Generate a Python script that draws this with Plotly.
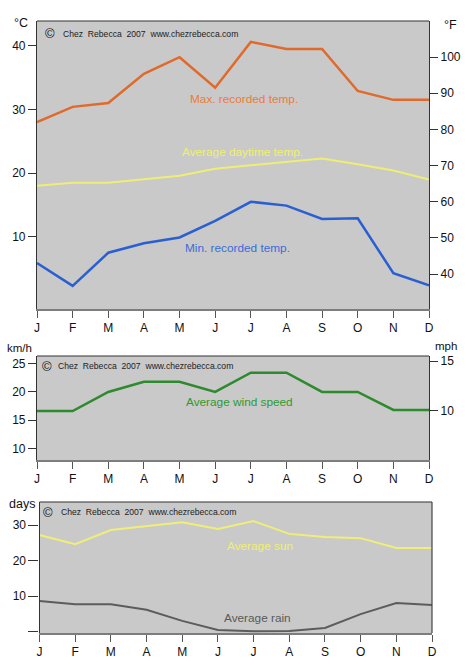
import plotly.graph_objects as go

W, H = 467, 665

months = ["J", "F", "M", "A", "M", "J", "J", "A", "S", "O", "N", "D"]
month_idx = list(range(12))

max_temp_c = [28.0, 30.4, 31.0, 35.6, 38.2, 33.4, 40.6, 39.5, 39.5, 32.9, 31.5, 31.5]
avg_day_c = [18.0, 18.5, 18.5, 19.0, 19.6, 20.7, 21.2, 21.8, 22.3, 21.4, 20.4, 19.0]
min_temp_c = [5.9, 2.3, 7.5, 9.0, 9.9, 12.5, 15.5, 14.9, 12.8, 12.9, 4.3, 2.4]

wind_kmh = [16.6, 16.6, 20.0, 21.8, 21.8, 20.0, 23.4, 23.4, 20.0, 20.0, 16.8, 16.8]

sun_days = [27.2, 24.6, 28.6, 29.7, 30.8, 28.9, 31.1, 27.5, 26.6, 26.3, 23.5, 23.5]
rain_days = [8.6, 7.7, 7.7, 6.1, 3.0, 0.4, 0.05, 0.15, 1.0, 4.9, 8.0, 7.5]

c_ticks = [10, 20, 30, 40]
f_ticks = [40, 50, 60, 70, 80, 90, 100]
kmh_ticks = [10, 15, 20, 25]
mph_ticks = [5, 10, 15]
day_ticks = [0, 10, 20, 30]
day_ticktext = ["", "10", "20", "30"]

FONT = "Liberation Sans, Arial, Helvetica, sans-serif"

def px_x(p):
    return p / W

def px_y(p):
    return 1 - p / H

fig = go.Figure()

# top chart
fig.add_trace(go.Scatter(x=month_idx, y=max_temp_c, mode="lines",
                         line=dict(color="#df6a2c", width=2.5), xaxis="x", yaxis="y",
                         hoverinfo="skip", showlegend=False))
fig.add_trace(go.Scatter(x=month_idx, y=avg_day_c, mode="lines",
                         line=dict(color="#eeee74", width=2), xaxis="x", yaxis="y",
                         hoverinfo="skip", showlegend=False))
fig.add_trace(go.Scatter(x=month_idx, y=min_temp_c, mode="lines",
                         line=dict(color="#2a5fd2", width=2.5), xaxis="x", yaxis="y",
                         hoverinfo="skip", showlegend=False))
fig.add_trace(go.Scatter(x=[0], y=[70], mode="markers", marker=dict(opacity=0),
                         xaxis="x", yaxis="y2", hoverinfo="skip", showlegend=False))

# middle chart
fig.add_trace(go.Scatter(x=month_idx, y=wind_kmh, mode="lines",
                         line=dict(color="#2d8a2d", width=2.5), xaxis="x2", yaxis="y3",
                         hoverinfo="skip", showlegend=False))
fig.add_trace(go.Scatter(x=[0], y=[10], mode="markers", marker=dict(opacity=0),
                         xaxis="x2", yaxis="y4", hoverinfo="skip", showlegend=False))

# bottom chart
fig.add_trace(go.Scatter(x=month_idx, y=sun_days, mode="lines",
                         line=dict(color="#efef78", width=2), xaxis="x3", yaxis="y5",
                         hoverinfo="skip", showlegend=False))
fig.add_trace(go.Scatter(x=month_idx, y=rain_days, mode="lines",
                         line=dict(color="#5c5c5c", width=2), xaxis="x3", yaxis="y5",
                         hoverinfo="skip", showlegend=False))

tickfont = dict(family=FONT, size=12, color="#111")

def xax(domain, anchor):
    return dict(domain=domain, anchor=anchor, range=[0, 11], tickmode="array",
                tickvals=month_idx, ticktext=months, ticks="outside", ticklen=7,
                tickcolor="#555", tickwidth=1.2, showline=True, linecolor="#7d7d7d",
                linewidth=2, showgrid=False, zeroline=False, tickfont=tickfont,
                fixedrange=True, automargin=False)

def yax(domain, anchor, rng, tv, tt=None, side="left", overlaying=None, ticklen=8):
    d = dict(range=rng, tickmode="array", tickvals=tv,
             ticktext=tt if tt is not None else [str(v) for v in tv],
             ticks="outside", ticklen=ticklen, tickcolor="#333", tickwidth=1.2,
             showline=True, linecolor="#333", linewidth=1.2, showgrid=False,
             zeroline=False, tickfont=tickfont, side=side, anchor=anchor,
             fixedrange=True, automargin=False)
    if overlaying:
        d["overlaying"] = overlaying
    else:
        d["domain"] = domain
    return d

top_x = [37 / W, 429 / W]
top_y = [px_y(309), px_y(21)]
mid_y = [px_y(460), px_y(356)]
bot_x = [39.5 / W, 432 / W]
bot_y = [px_y(633), px_y(502)]

layout = dict(
    width=W, height=H,
    margin=dict(l=0, r=0, t=0, b=0, autoexpand=False),
    paper_bgcolor="white",
    plot_bgcolor="#c9c9c9",
    font=dict(family=FONT, size=12, color="#111"),
    showlegend=False,
    xaxis=xax(top_x, "y"),
    yaxis=yax(top_y, "x", [-1.33, 43.88], c_ticks),
    yaxis2=yax(None, "x", [30.36, 109.97], f_ticks, side="right", overlaying="y"),
    xaxis2=xax(top_x, "y3"),
    yaxis3=yax(mid_y, "x2", [7.93, 26.37], kmh_ticks),
    yaxis4=yax(None, "x2", [5.02, 15.52], mph_ticks, side="right", overlaying="y3"),
    xaxis3=xax(bot_x, "y5"),
    yaxis5=yax(bot_y, "x3", [-0.42, 36.48], day_ticks, tt=day_ticktext, ticklen=10),
)

shapes = []
for xr, yr in [("x", "y"), ("x2", "y3"), ("x3", "y5")]:
    shapes.append(dict(type="line", xref=xr + " domain", yref=yr + " domain",
                       x0=0, x1=1, y0=1, y1=1, line=dict(color="#333", width=1.2)))
shapes.append(dict(type="line", xref="x3 domain", yref="y5 domain",
                   x0=1, x1=1, y0=0, y1=1, line=dict(color="#444", width=1.2)))
layout["shapes"] = shapes

NB = "\u00a0"
cp_text = "Chez" + NB * 2 + "Rebecca" + NB * 2 + "2007" + NB * 2 + "www.chezrebecca.com"

ann = []

def add_text(text, x, y, color, size, xanchor="left"):
    ann.append(dict(text=text, x=px_x(x), y=px_y(y), xref="paper", yref="paper",
                    xanchor=xanchor, yanchor="middle", showarrow=False,
                    font=dict(family=FONT, size=size, color=color)))

# copyright lines
for (cx, tx, ty) in [(43, 61, 34), (40, 56, 366), (41, 59, 512)]:
    add_text("©", cx, ty, "#111", 13)
    add_text(cp_text, tx, ty, "#222", 8.6)

# series labels
add_text("Max. recorded temp.", 188, 99, "#ef7a38", 11.8)
add_text("Average daytime temp.", 180, 152, "#efef6e", 11.8)
add_text("Min. recorded temp.", 183, 248, "#3a6bdc", 11.8)
add_text("Average wind speed", 184, 402, "#2f9a2f", 11.8)
add_text("Average sun", 225, 546, "#efef6e", 11.8)
add_text("Average rain", 222, 618, "#5a5a5a", 11.8)

# unit labels
add_text("°C", 12, 23, "#111", 12.5)
add_text("°F", 442, 25, "#111", 12.5)
add_text("km/h", 5, 348, "#111", 11.5)
add_text("mph", 433, 346, "#111", 11.5)
add_text("days", 7, 504, "#111", 12.5)

layout["annotations"] = ann

fig.update_layout(**layout)
fig.write_html(
    "out.html",
    config={"displayModeBar": False},
    post_script="document.body.style.margin='0';document.body.style.padding='0';"
                "document.body.style.overflow='hidden';",
)
